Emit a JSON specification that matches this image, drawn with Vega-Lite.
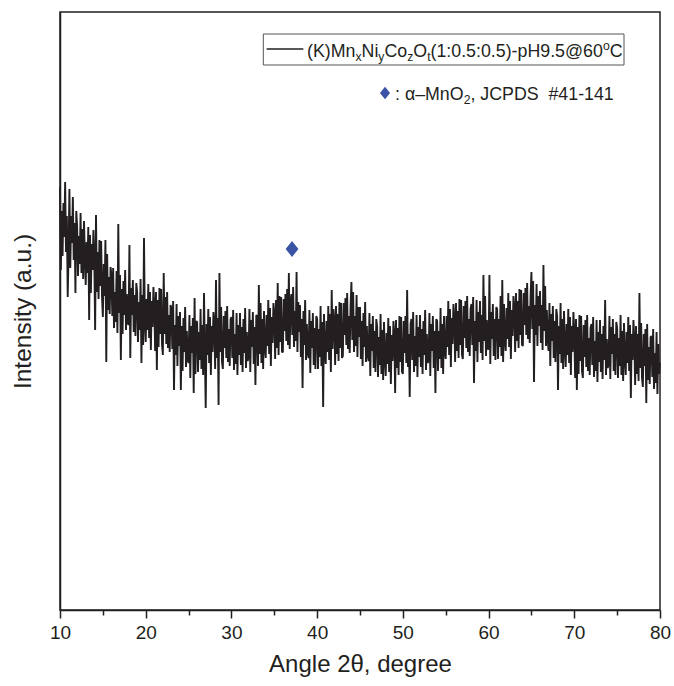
{
"$schema": "https://vega.github.io/schema/vega-lite/v6.json",
"width": 600, "height": 598,
"autosize": {"type": "none"},
"padding": {"left": 60, "top": 12, "right": 14, "bottom": 76},
"background": "white",
"config": {"view": {"stroke": "#231f20", "strokeWidth": 1.5}, "font": "Liberation Sans"},
"datasets": {"xrd": [
{"a":10,"i":420},{"a":10.1,"i":337},{"a":10.2,"i":396},{"a":10.3,"i":351},{"a":10.4,"i":404},{"a":10.5,"i":370},{"a":10.6,"i":425},{"a":10.7,"i":355},{"a":10.8,"i":391},{"a":10.9,"i":310},
{"a":11,"i":354},{"a":11.1,"i":418},{"a":11.2,"i":339},{"a":11.3,"i":391},{"a":11.4,"i":364},{"a":11.5,"i":410},{"a":11.6,"i":347},{"a":11.7,"i":384},{"a":11.8,"i":314},{"a":11.9,"i":396},
{"a":12,"i":381},{"a":12.1,"i":331},{"a":12.2,"i":371},{"a":12.3,"i":343},{"a":12.4,"i":394},{"a":12.5,"i":334},{"a":12.6,"i":378},{"a":12.7,"i":328},{"a":12.8,"i":386},{"a":12.9,"i":350},
{"a":13,"i":322},{"a":13.1,"i":365},{"a":13.2,"i":334},{"a":13.3,"i":380},{"a":13.4,"i":287},{"a":13.5,"i":372},{"a":13.6,"i":314},{"a":13.7,"i":363},{"a":13.8,"i":337},{"a":13.9,"i":377},
{"a":14,"i":349},{"a":14.1,"i":277},{"a":14.2,"i":392},{"a":14.3,"i":315},{"a":14.4,"i":355},{"a":14.5,"i":308},{"a":14.6,"i":367},{"a":14.7,"i":321},{"a":14.8,"i":366},{"a":14.9,"i":311},
{"a":15,"i":290},{"a":15.1,"i":343},{"a":15.2,"i":311},{"a":15.3,"i":367},{"a":15.4,"i":245},{"a":15.5,"i":353},{"a":15.6,"i":297},{"a":15.7,"i":330},{"a":15.8,"i":293},{"a":15.9,"i":340},
{"a":16,"i":332},{"a":16.1,"i":291},{"a":16.2,"i":339},{"a":16.3,"i":279},{"a":16.4,"i":315},{"a":16.5,"i":285},{"a":16.6,"i":336},{"a":16.7,"i":274},{"a":16.8,"i":383},{"a":16.9,"i":294},
{"a":17,"i":332},{"a":17.1,"i":247},{"a":17.2,"i":318},{"a":17.3,"i":273},{"a":17.4,"i":326},{"a":17.5,"i":292},{"a":17.6,"i":337},{"a":17.7,"i":277},{"a":17.8,"i":313},{"a":17.9,"i":284},
{"a":18,"i":282},{"a":18.1,"i":362},{"a":18.2,"i":249},{"a":18.3,"i":319},{"a":18.4,"i":292},{"a":18.5,"i":327},{"a":18.6,"i":275},{"a":18.7,"i":312},{"a":18.8,"i":271},{"a":18.9,"i":324},
{"a":19,"i":315},{"a":19.1,"i":265},{"a":19.2,"i":305},{"a":19.3,"i":277},{"a":19.4,"i":328},{"a":19.5,"i":244},{"a":19.6,"i":312},{"a":19.7,"i":262},{"a":19.8,"i":369},{"a":19.9,"i":284},
{"a":20,"i":265},{"a":20.1,"i":308},{"a":20.2,"i":277},{"a":20.3,"i":323},{"a":20.4,"i":269},{"a":20.5,"i":315},{"a":20.6,"i":257},{"a":20.7,"i":306},{"a":20.8,"i":280},{"a":20.9,"i":320},
{"a":21,"i":301},{"a":21.1,"i":256},{"a":21.2,"i":315},{"a":21.3,"i":237},{"a":21.4,"i":307},{"a":21.5,"i":260},{"a":21.6,"i":319},{"a":21.7,"i":273},{"a":21.8,"i":318},{"a":21.9,"i":263},
{"a":22,"i":252},{"a":22.1,"i":334},{"a":22.2,"i":273},{"a":22.3,"i":310},{"a":22.4,"i":263},{"a":22.5,"i":315},{"a":22.6,"i":259},{"a":22.7,"i":292},{"a":22.8,"i":255},{"a":22.9,"i":302},
{"a":23,"i":299},{"a":23.1,"i":258},{"a":23.2,"i":306},{"a":23.3,"i":217},{"a":23.4,"i":282},{"a":23.5,"i":252},{"a":23.6,"i":303},{"a":23.7,"i":241},{"a":23.8,"i":291},{"a":23.9,"i":261},
{"a":24,"i":295},{"a":24.1,"i":217},{"a":24.2,"i":281},{"a":24.3,"i":236},{"a":24.4,"i":289},{"a":24.5,"i":255},{"a":24.6,"i":300},{"a":24.7,"i":240},{"a":24.8,"i":276},{"a":24.9,"i":247},
{"a":25,"i":244},{"a":25.1,"i":292},{"a":25.2,"i":229},{"a":25.3,"i":281},{"a":25.4,"i":254},{"a":25.5,"i":289},{"a":25.6,"i":214},{"a":25.7,"i":309},{"a":25.8,"i":233},{"a":25.9,"i":286},
{"a":26,"i":285},{"a":26.1,"i":235},{"a":26.2,"i":275},{"a":26.3,"i":247},{"a":26.4,"i":298},{"a":26.5,"i":238},{"a":26.6,"i":282},{"a":26.7,"i":232},{"a":26.8,"i":314},{"a":26.9,"i":254},
{"a":27,"i":199},{"a":27.1,"i":283},{"a":27.2,"i":252},{"a":27.3,"i":298},{"a":27.4,"i":244},{"a":27.5,"i":290},{"a":27.6,"i":232},{"a":27.7,"i":281},{"a":27.8,"i":255},{"a":27.9,"i":295},
{"a":28,"i":283},{"a":28.1,"i":238},{"a":28.2,"i":327},{"a":28.3,"i":249},{"a":28.4,"i":289},{"a":28.5,"i":202},{"a":28.6,"i":334},{"a":28.7,"i":255},{"a":28.8,"i":300},{"a":28.9,"i":245},
{"a":29,"i":238},{"a":29.1,"i":291},{"a":29.2,"i":259},{"a":29.3,"i":296},{"a":29.4,"i":249},{"a":29.5,"i":301},{"a":29.6,"i":245},{"a":29.7,"i":278},{"a":29.8,"i":241},{"a":29.9,"i":288},
{"a":30,"i":290},{"a":30.1,"i":249},{"a":30.2,"i":297},{"a":30.3,"i":237},{"a":30.4,"i":273},{"a":30.5,"i":243},{"a":30.6,"i":294},{"a":30.7,"i":232},{"a":30.8,"i":282},{"a":30.9,"i":252},
{"a":31,"i":294},{"a":31.1,"i":242},{"a":31.2,"i":280},{"a":31.3,"i":235},{"a":31.4,"i":288},{"a":31.5,"i":254},{"a":31.6,"i":299},{"a":31.7,"i":239},{"a":31.8,"i":275},{"a":31.9,"i":246},
{"a":32,"i":250},{"a":32.1,"i":298},{"a":32.2,"i":235},{"a":32.3,"i":287},{"a":32.4,"i":260},{"a":32.5,"i":295},{"a":32.6,"i":243},{"a":32.7,"i":280},{"a":32.8,"i":222},{"a":32.9,"i":292},
{"a":33,"i":291},{"a":33.1,"i":241},{"a":33.2,"i":322},{"a":33.3,"i":253},{"a":33.4,"i":304},{"a":33.5,"i":244},{"a":33.6,"i":288},{"a":33.7,"i":238},{"a":33.8,"i":296},{"a":33.9,"i":260},
{"a":34,"i":249},{"a":34.1,"i":292},{"a":34.2,"i":261},{"a":34.3,"i":307},{"a":34.4,"i":253},{"a":34.5,"i":299},{"a":34.6,"i":241},{"a":34.7,"i":290},{"a":34.8,"i":264},{"a":34.9,"i":304},
{"a":35,"i":293},{"a":35.1,"i":248},{"a":35.2,"i":307},{"a":35.3,"i":259},{"a":35.4,"i":324},{"a":35.5,"i":252},{"a":35.6,"i":311},{"a":35.7,"i":265},{"a":35.8,"i":310},{"a":35.9,"i":255},
{"a":36,"i":255},{"a":36.1,"i":308},{"a":36.2,"i":276},{"a":36.3,"i":313},{"a":36.4,"i":266},{"a":36.5,"i":318},{"a":36.6,"i":262},{"a":36.7,"i":334},{"a":36.8,"i":258},{"a":36.9,"i":305},
{"a":37,"i":313},{"a":37.1,"i":272},{"a":37.2,"i":320},{"a":37.3,"i":260},{"a":37.4,"i":296},{"a":37.5,"i":266},{"a":37.6,"i":335},{"a":37.7,"i":255},{"a":37.8,"i":305},{"a":37.9,"i":275},
{"a":38,"i":302},{"a":38.1,"i":250},{"a":38.2,"i":288},{"a":38.3,"i":219},{"a":38.4,"i":296},{"a":38.5,"i":262},{"a":38.6,"i":307},{"a":38.7,"i":247},{"a":38.8,"i":283},{"a":38.9,"i":254},
{"a":39,"i":249},{"a":39.1,"i":297},{"a":39.2,"i":234},{"a":39.3,"i":286},{"a":39.4,"i":259},{"a":39.5,"i":294},{"a":39.6,"i":242},{"a":39.7,"i":279},{"a":39.8,"i":238},{"a":39.9,"i":291},
{"a":40,"i":288},{"a":40.1,"i":238},{"a":40.2,"i":278},{"a":40.3,"i":250},{"a":40.4,"i":301},{"a":40.5,"i":241},{"a":40.6,"i":285},{"a":40.7,"i":200},{"a":40.8,"i":293},{"a":40.9,"i":257},
{"a":41,"i":243},{"a":41.1,"i":286},{"a":41.2,"i":255},{"a":41.3,"i":301},{"a":41.4,"i":247},{"a":41.5,"i":293},{"a":41.6,"i":235},{"a":41.7,"i":317},{"a":41.8,"i":258},{"a":41.9,"i":298},
{"a":42,"i":287},{"a":42.1,"i":242},{"a":42.2,"i":301},{"a":42.3,"i":253},{"a":42.4,"i":293},{"a":42.5,"i":246},{"a":42.6,"i":305},{"a":42.7,"i":259},{"a":42.8,"i":304},{"a":42.9,"i":249},
{"a":43,"i":251},{"a":43.1,"i":304},{"a":43.2,"i":272},{"a":43.3,"i":309},{"a":43.4,"i":262},{"a":43.5,"i":314},{"a":43.6,"i":258},{"a":43.7,"i":291},{"a":43.8,"i":254},{"a":43.9,"i":301},
{"a":44,"i":325},{"a":44.1,"i":267},{"a":44.2,"i":315},{"a":44.3,"i":255},{"a":44.4,"i":291},{"a":44.5,"i":261},{"a":44.6,"i":312},{"a":44.7,"i":250},{"a":44.8,"i":300},{"a":44.9,"i":270},
{"a":45,"i":300},{"a":45.1,"i":248},{"a":45.2,"i":286},{"a":45.3,"i":241},{"a":45.4,"i":294},{"a":45.5,"i":260},{"a":45.6,"i":305},{"a":45.7,"i":245},{"a":45.8,"i":281},{"a":45.9,"i":252},
{"a":46,"i":246},{"a":46.1,"i":294},{"a":46.2,"i":231},{"a":46.3,"i":283},{"a":46.4,"i":256},{"a":46.5,"i":291},{"a":46.6,"i":239},{"a":46.7,"i":276},{"a":46.8,"i":235},{"a":46.9,"i":288},
{"a":47,"i":280},{"a":47.1,"i":230},{"a":47.2,"i":270},{"a":47.3,"i":242},{"a":47.4,"i":293},{"a":47.5,"i":233},{"a":47.6,"i":277},{"a":47.7,"i":227},{"a":47.8,"i":285},{"a":47.9,"i":249},
{"a":48,"i":231},{"a":48.1,"i":274},{"a":48.2,"i":243},{"a":48.3,"i":289},{"a":48.4,"i":235},{"a":48.5,"i":281},{"a":48.6,"i":223},{"a":48.7,"i":272},{"a":48.8,"i":246},{"a":48.9,"i":286},
{"a":49,"i":273},{"a":49.1,"i":214},{"a":49.2,"i":287},{"a":49.3,"i":239},{"a":49.4,"i":279},{"a":49.5,"i":232},{"a":49.6,"i":291},{"a":49.7,"i":245},{"a":49.8,"i":290},{"a":49.9,"i":235},
{"a":50,"i":233},{"a":50.1,"i":286},{"a":50.2,"i":254},{"a":50.3,"i":291},{"a":50.4,"i":244},{"a":50.5,"i":317},{"a":50.6,"i":240},{"a":50.7,"i":273},{"a":50.8,"i":210},{"a":50.9,"i":283},
{"a":51,"i":288},{"a":51.1,"i":247},{"a":51.2,"i":295},{"a":51.3,"i":235},{"a":51.4,"i":271},{"a":51.5,"i":241},{"a":51.6,"i":292},{"a":51.7,"i":230},{"a":51.8,"i":280},{"a":51.9,"i":250},
{"a":52,"i":292},{"a":52.1,"i":240},{"a":52.2,"i":278},{"a":52.3,"i":233},{"a":52.4,"i":286},{"a":52.5,"i":252},{"a":52.6,"i":297},{"a":52.7,"i":237},{"a":52.8,"i":273},{"a":52.9,"i":244},
{"a":53,"i":246},{"a":53.1,"i":294},{"a":53.2,"i":231},{"a":53.3,"i":283},{"a":53.4,"i":256},{"a":53.5,"i":291},{"a":53.6,"i":239},{"a":53.7,"i":276},{"a":53.8,"i":214},{"a":53.9,"i":288},
{"a":54,"i":286},{"a":54.1,"i":236},{"a":54.2,"i":276},{"a":54.3,"i":248},{"a":54.4,"i":299},{"a":54.5,"i":239},{"a":54.6,"i":283},{"a":54.7,"i":233},{"a":54.8,"i":291},{"a":54.9,"i":255},
{"a":55,"i":248},{"a":55.1,"i":291},{"a":55.2,"i":260},{"a":55.3,"i":306},{"a":55.4,"i":252},{"a":55.5,"i":298},{"a":55.6,"i":240},{"a":55.7,"i":289},{"a":55.8,"i":263},{"a":55.9,"i":303},
{"a":56,"i":290},{"a":56.1,"i":245},{"a":56.2,"i":304},{"a":56.3,"i":256},{"a":56.4,"i":296},{"a":56.5,"i":249},{"a":56.6,"i":308},{"a":56.7,"i":262},{"a":56.8,"i":307},{"a":56.9,"i":252},
{"a":57,"i":248},{"a":57.1,"i":301},{"a":57.2,"i":269},{"a":57.3,"i":306},{"a":57.4,"i":259},{"a":57.5,"i":311},{"a":57.6,"i":255},{"a":57.7,"i":288},{"a":57.8,"i":251},{"a":57.9,"i":298},
{"a":58,"i":303},{"a":58.1,"i":262},{"a":58.2,"i":310},{"a":58.3,"i":224},{"a":58.4,"i":286},{"a":58.5,"i":256},{"a":58.6,"i":307},{"a":58.7,"i":245},{"a":58.8,"i":295},{"a":58.9,"i":265},
{"a":59,"i":306},{"a":59.1,"i":254},{"a":59.2,"i":292},{"a":59.3,"i":247},{"a":59.4,"i":332},{"a":59.5,"i":266},{"a":59.6,"i":311},{"a":59.7,"i":251},{"a":59.8,"i":287},{"a":59.9,"i":258},
{"a":60,"i":258},{"a":60.1,"i":332},{"a":60.2,"i":243},{"a":60.3,"i":295},{"a":60.4,"i":268},{"a":60.5,"i":303},{"a":60.6,"i":251},{"a":60.7,"i":288},{"a":60.8,"i":247},{"a":60.9,"i":300},
{"a":61,"i":298},{"a":61.1,"i":248},{"a":61.2,"i":288},{"a":61.3,"i":260},{"a":61.4,"i":311},{"a":61.5,"i":251},{"a":61.6,"i":327},{"a":61.7,"i":245},{"a":61.8,"i":303},{"a":61.9,"i":267},
{"a":62,"i":256},{"a":62.1,"i":299},{"a":62.2,"i":268},{"a":62.3,"i":314},{"a":62.4,"i":260},{"a":62.5,"i":306},{"a":62.6,"i":248},{"a":62.7,"i":297},{"a":62.8,"i":271},{"a":62.9,"i":311},
{"a":63,"i":300},{"a":63.1,"i":255},{"a":63.2,"i":314},{"a":63.3,"i":266},{"a":63.4,"i":306},{"a":63.5,"i":259},{"a":63.6,"i":318},{"a":63.7,"i":272},{"a":63.8,"i":317},{"a":63.9,"i":262},
{"a":64,"i":261},{"a":64.1,"i":314},{"a":64.2,"i":282},{"a":64.3,"i":319},{"a":64.4,"i":272},{"a":64.5,"i":324},{"a":64.6,"i":268},{"a":64.7,"i":301},{"a":64.8,"i":264},{"a":64.9,"i":311},
{"a":65,"i":335},{"a":65.1,"i":278},{"a":65.2,"i":326},{"a":65.3,"i":225},{"a":65.4,"i":302},{"a":65.5,"i":272},{"a":65.6,"i":323},{"a":65.7,"i":261},{"a":65.8,"i":311},{"a":65.9,"i":281},
{"a":66,"i":316},{"a":66.1,"i":264},{"a":66.2,"i":302},{"a":66.3,"i":257},{"a":66.4,"i":342},{"a":66.5,"i":276},{"a":66.6,"i":321},{"a":66.7,"i":261},{"a":66.8,"i":297},{"a":66.9,"i":268},
{"a":67,"i":256},{"a":67.1,"i":304},{"a":67.2,"i":241},{"a":67.3,"i":293},{"a":67.4,"i":266},{"a":67.5,"i":301},{"a":67.6,"i":249},{"a":67.7,"i":286},{"a":67.8,"i":245},{"a":67.9,"i":298},
{"a":68,"i":291},{"a":68.1,"i":217},{"a":68.2,"i":281},{"a":68.3,"i":253},{"a":68.4,"i":304},{"a":68.5,"i":244},{"a":68.6,"i":288},{"a":68.7,"i":238},{"a":68.8,"i":296},{"a":68.9,"i":260},
{"a":69,"i":240},{"a":69.1,"i":283},{"a":69.2,"i":252},{"a":69.3,"i":298},{"a":69.4,"i":244},{"a":69.5,"i":290},{"a":69.6,"i":232},{"a":69.7,"i":281},{"a":69.8,"i":255},{"a":69.9,"i":295},
{"a":70,"i":274},{"a":70.1,"i":229},{"a":70.2,"i":288},{"a":70.3,"i":217},{"a":70.4,"i":280},{"a":70.5,"i":233},{"a":70.6,"i":292},{"a":70.7,"i":246},{"a":70.8,"i":291},{"a":70.9,"i":236},
{"a":71,"i":229},{"a":71.1,"i":282},{"a":71.2,"i":250},{"a":71.3,"i":287},{"a":71.4,"i":240},{"a":71.5,"i":292},{"a":71.6,"i":236},{"a":71.7,"i":269},{"a":71.8,"i":232},{"a":71.9,"i":279},
{"a":72,"i":283},{"a":72.1,"i":242},{"a":72.2,"i":290},{"a":72.3,"i":230},{"a":72.4,"i":266},{"a":72.5,"i":236},{"a":72.6,"i":287},{"a":72.7,"i":225},{"a":72.8,"i":275},{"a":72.9,"i":245},
{"a":73,"i":287},{"a":73.1,"i":235},{"a":73.2,"i":273},{"a":73.3,"i":228},{"a":73.4,"i":281},{"a":73.5,"i":247},{"a":73.6,"i":307},{"a":73.7,"i":232},{"a":73.8,"i":268},{"a":73.9,"i":239},
{"a":74,"i":243},{"a":74.1,"i":291},{"a":74.2,"i":228},{"a":74.3,"i":280},{"a":74.4,"i":253},{"a":74.5,"i":288},{"a":74.6,"i":236},{"a":74.7,"i":273},{"a":74.8,"i":232},{"a":74.9,"i":285},
{"a":75,"i":279},{"a":75.1,"i":229},{"a":75.2,"i":269},{"a":75.3,"i":241},{"a":75.4,"i":292},{"a":75.5,"i":232},{"a":75.6,"i":276},{"a":75.7,"i":226},{"a":75.8,"i":284},{"a":75.9,"i":248},
{"a":76,"i":232},{"a":76.1,"i":275},{"a":76.2,"i":244},{"a":76.3,"i":290},{"a":76.4,"i":236},{"a":76.5,"i":282},{"a":76.6,"i":209},{"a":76.7,"i":273},{"a":76.8,"i":247},{"a":76.9,"i":287},
{"a":77,"i":267},{"a":77.1,"i":222},{"a":77.2,"i":281},{"a":77.3,"i":233},{"a":77.4,"i":273},{"a":77.5,"i":226},{"a":77.6,"i":314},{"a":77.7,"i":239},{"a":77.8,"i":284},{"a":77.9,"i":229},
{"a":78,"i":220},{"a":78.1,"i":273},{"a":78.2,"i":241},{"a":78.3,"i":278},{"a":78.4,"i":204},{"a":78.5,"i":283},{"a":78.6,"i":227},{"a":78.7,"i":260},{"a":78.8,"i":223},{"a":78.9,"i":270},
{"a":79,"i":271},{"a":79.1,"i":230},{"a":79.2,"i":278},{"a":79.3,"i":218},{"a":79.4,"i":254},{"a":79.5,"i":224},{"a":79.6,"i":275},{"a":79.7,"i":213},{"a":79.8,"i":263},{"a":79.9,"i":233},
{"a":80,"i":244}
],
"peak": [{"a":37.07,"i":358}]
},
"layer": [
{"data": {"name": "xrd"},
 "mark": {"type": "line", "color": "#231f20", "strokeWidth": 1.9, "strokeJoin": "bevel", "interpolate": "linear"},
 "encoding": {
  "x": {"field": "a", "type": "quantitative",
   "scale": {"domain": [10, 80], "nice": false, "zero": false},
   "axis": {"title": "Angle 2θ, degree", "values": [10,15,20,25,30,35,40,45,50,55,60,65,70,75,80],
    "labelExpr": "datum.value % 10 === 0 ? datum.label : ''",
    "tickSize": {"condition": {"test": "datum.value % 10 === 0", "value": 8}, "value": 5},
    "tickColor": "#231f20", "tickWidth": 1.5, "domainColor": "#231f20", "domainWidth": 1.5,
    "grid": false, "labelFlush": false, "labelFontSize": 19, "labelColor": "#231f20", "labelPadding": 5,
    "labelFont": "Liberation Sans", "titleFont": "Liberation Sans",
    "titleFontSize": 24, "titleFontWeight": "normal", "titleColor": "#231f20", "titlePadding": 10}},
  "y": {"field": "i", "type": "quantitative",
   "scale": {"domain": [-3, 595], "nice": false, "zero": false},
   "axis": {"title": "Intensity (a.u.)", "ticks": false, "labels": false, "grid": false,
    "domainColor": "#231f20", "domainWidth": 1.5, "titleFont": "Liberation Sans",
    "titleFontSize": 24.5, "titleFontWeight": "normal", "titleColor": "#231f20", "titlePadding": 25}}
 }},
{"data": {"name": "peak"},
 "mark": {"type": "point", "shape": "M0,-1L0.8,0L0,1L-0.8,0Z", "filled": true, "color": "#3a53a4", "opacity": 1, "size": 256},
 "encoding": {"x": {"field": "a", "type": "quantitative"}, "y": {"field": "i", "type": "quantitative"}}},
{"data": {"values": [{}]},
 "mark": {"type": "rect", "fill": null, "fillOpacity": 0, "stroke": "#555555", "strokeWidth": 1},
 "encoding": {"x": {"datum": 33.72, "type": "quantitative"}, "x2": {"datum": 75.80}, "y": {"datum": 573, "type": "quantitative"}, "y2": {"datum": 542}}},
{"data": {"values": [{}]},
 "mark": {"type": "rule", "color": "#231f20", "strokeWidth": 1.3},
 "encoding": {"x": {"datum": 34.11, "type": "quantitative"}, "x2": {"datum": 38.39}, "y": {"datum": 558, "type": "quantitative"}}},
{"data": {"values": [{}]}, "mark": {"type": "text", "text": "(K)Mn", "align": "left", "baseline": "alphabetic", "fontSize": 17.8, "font": "Liberation Sans", "color": "#231f20"},
 "encoding": {"x": {"datum": 38.817, "type": "quantitative"}, "y": {"datum": 550, "type": "quantitative"}}},
{"data": {"values": [{}]}, "mark": {"type": "text", "text": "x", "align": "left", "baseline": "alphabetic", "fontSize": 12.2, "font": "Liberation Sans", "color": "#231f20"},
 "encoding": {"x": {"datum": 44.470, "type": "quantitative"}, "y": {"datum": 546, "type": "quantitative"}}},
{"data": {"values": [{}]}, "mark": {"type": "text", "text": "Ni", "align": "left", "baseline": "alphabetic", "fontSize": 17.8, "font": "Liberation Sans", "color": "#231f20"},
 "encoding": {"x": {"datum": 45.181, "type": "quantitative"}, "y": {"datum": 550, "type": "quantitative"}}},
{"data": {"values": [{}]}, "mark": {"type": "text", "text": "y", "align": "left", "baseline": "alphabetic", "fontSize": 12.2, "font": "Liberation Sans", "color": "#231f20"},
 "encoding": {"x": {"datum": 47.141, "type": "quantitative"}, "y": {"datum": 546, "type": "quantitative"}}},
{"data": {"values": [{}]}, "mark": {"type": "text", "text": "Co", "align": "left", "baseline": "alphabetic", "fontSize": 17.8, "font": "Liberation Sans", "color": "#231f20"},
 "encoding": {"x": {"datum": 47.853, "type": "quantitative"}, "y": {"datum": 550, "type": "quantitative"}}},
{"data": {"values": [{}]}, "mark": {"type": "text", "text": "z", "align": "left", "baseline": "alphabetic", "fontSize": 12.2, "font": "Liberation Sans", "color": "#231f20"},
 "encoding": {"x": {"datum": 50.507, "type": "quantitative"}, "y": {"datum": 546, "type": "quantitative"}}},
{"data": {"values": [{}]}, "mark": {"type": "text", "text": "O", "align": "left", "baseline": "alphabetic", "fontSize": 17.8, "font": "Liberation Sans", "color": "#231f20"},
 "encoding": {"x": {"datum": 51.218, "type": "quantitative"}, "y": {"datum": 550, "type": "quantitative"}}},
{"data": {"values": [{}]}, "mark": {"type": "text", "text": "t", "align": "left", "baseline": "alphabetic", "fontSize": 12.2, "font": "Liberation Sans", "color": "#231f20"},
 "encoding": {"x": {"datum": 52.834, "type": "quantitative"}, "y": {"datum": 546, "type": "quantitative"}}},
{"data": {"values": [{}]}, "mark": {"type": "text", "text": "(1:0.5:0.5)-pH9.5@60", "align": "left", "baseline": "alphabetic", "fontSize": 17.8, "font": "Liberation Sans", "color": "#231f20"},
 "encoding": {"x": {"datum": 53.230, "type": "quantitative"}, "y": {"datum": 550, "type": "quantitative"}}},
{"data": {"values": [{}]}, "mark": {"type": "text", "text": "o", "align": "left", "baseline": "alphabetic", "fontSize": 12.2, "font": "Liberation Sans", "color": "#231f20"},
 "encoding": {"x": {"datum": 73.344, "type": "quantitative"}, "y": {"datum": 557, "type": "quantitative"}}},
{"data": {"values": [{}]}, "mark": {"type": "text", "text": "C", "align": "left", "baseline": "alphabetic", "fontSize": 17.8, "font": "Liberation Sans", "color": "#231f20"},
 "encoding": {"x": {"datum": 74.135, "type": "quantitative"}, "y": {"datum": 550, "type": "quantitative"}}},
{"data": {"values": [{}]},
 "mark": {"type": "point", "shape": "M0,-1L0.8,0L0,1L-0.8,0Z", "filled": true, "color": "#3a53a4", "opacity": 1, "size": 160},
 "encoding": {"x": {"datum": 47.92, "type": "quantitative"}, "y": {"datum": 514, "type": "quantitative"}}},
{"data": {"values": [{}]}, "mark": {"type": "text", "text": ": α–MnO", "align": "left", "baseline": "alphabetic", "fontSize": 17.8, "font": "Liberation Sans", "color": "#231f20"},
 "encoding": {"x": {"datum": 49.083, "type": "quantitative"}, "y": {"datum": 507, "type": "quantitative"}}},
{"data": {"values": [{}]}, "mark": {"type": "text", "text": "2", "align": "left", "baseline": "alphabetic", "fontSize": 12.2, "font": "Liberation Sans", "color": "#231f20"},
 "encoding": {"x": {"datum": 57.092, "type": "quantitative"}, "y": {"datum": 503, "type": "quantitative"}}},
{"data": {"values": [{}]}, "mark": {"type": "text", "text": ", JCPDS\u00a0 #41-141", "align": "left", "baseline": "alphabetic", "fontSize": 17.8, "font": "Liberation Sans", "color": "#231f20"},
 "encoding": {"x": {"datum": 57.883, "type": "quantitative"}, "y": {"datum": 507, "type": "quantitative"}}}
]
}
